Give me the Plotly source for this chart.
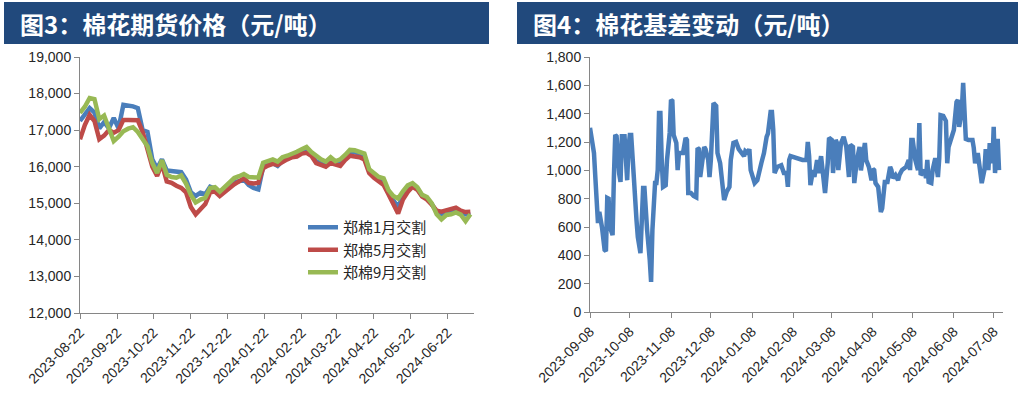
import pandas as pd
import plotly.graph_objects as go

# 图3：棉花期货价格（元/吨）—— 每4天取一个读数
price_dates = pd.date_range("2023-08-22", periods=82, freq="4D")
zc_jan = [17250, 17450, 17600, 17480, 17050, 17220, 17050, 17330, 17050, 17690,
          17680, 17650, 17600, 17000, 16950, 16200, 15950, 16200, 15900, 15880,
          15860, 15850, 15650, 15300, 15200, 15290, 15250, 15450, 15400, 15250,
          15350, 15480, 15580, 15600, 15650, 15500, 15420, 15380, 16000, 16050,
          16100, 16020, 16160, 16220, 16280, 16320, 16380, 16420, 16320, 16150,
          16080, 16020, 16150, 16080, 16100, 16250, 16380, 16400, 16350, 16300,
          15880, 15750, 15650, 15560, 15350, 15080, 14900, 15200, 15380, 15500,
          15400, 15200, 15130, 14980, 14760, 14700, 14760, 14800, 14830, 14760,
          14700, 14730]
zc_may = [16750, 17140, 17420, 17250, 16750, 16850, 17000, 16930, 17000, 17280,
          17280, 17280, 17270, 16950, 16450, 16000, 15750, 16080, 15600, 15560,
          15480, 15420, 15300, 14900, 14700, 14850, 14980, 15300, 15320, 15200,
          15310, 15430, 15520, 15600, 15680, 15560, 15540, 15560, 15960, 16030,
          16080, 16050, 16140, 16200, 16260, 16280, 16360, 16380, 16300, 16100,
          16050, 16000, 16100, 16050, 16020, 16180, 16300, 16280, 16260, 16200,
          15830, 15700, 15590, 15500, 15250, 14960, 14720, 15100, 15310, 15450,
          15370, 15180, 15100, 14960, 14800, 14770, 14800, 14850, 14880, 14800,
          14760, 14770]
zc_sep = [17470, 17640, 17880, 17850, 17300, 17400, 17050, 16700, 16820, 16970,
          17040, 17080, 16950, 16750, 16560, 16100, 15830, 16180, 15780, 15720,
          15700, 15760, 15540, 15230, 15020, 15100, 15150, 15420, 15440, 15320,
          15440, 15580, 15690, 15740, 15800, 15720, 15710, 15700, 16110, 16140,
          16200, 16140, 16260, 16300, 16340, 16410, 16480, 16540, 16400, 16280,
          16200, 16140, 16260, 16150, 16200, 16320, 16460, 16450, 16400, 16360,
          15930, 15840, 15720, 15680, 15360, 15200, 15130, 15330, 15490, 15550,
          15440, 15230, 15170, 15000, 14700, 14560, 14680, 14700, 14750, 14690,
          14510, 14700]
price_ticks = ["2023-08-22", "2023-09-22", "2023-10-22", "2023-11-22", "2023-12-22",
               "2024-01-22", "2024-02-22", "2024-03-22", "2024-04-22", "2024-05-22",
               "2024-06-22"]

# 图4：棉花基差变动（元/吨）
basis_dates = [
    "2023-09-08", "2023-09-11", "2023-09-12", "2023-09-13", "2023-09-14", "2023-09-15",
    "2023-09-17", "2023-09-19", "2023-09-20", "2023-09-21", "2023-09-22", "2023-09-23",
    "2023-09-25", "2023-09-26", "2023-09-27", "2023-09-28", "2023-09-29", "2023-09-30",
    "2023-10-01", "2023-10-02", "2023-10-04", "2023-10-05", "2023-10-06", "2023-10-07",
    "2023-10-08", "2023-10-09", "2023-10-10", "2023-10-11", "2023-10-13", "2023-10-14",
    "2023-10-16", "2023-10-17", "2023-10-18", "2023-10-19", "2023-10-20", "2023-10-21",
    "2023-10-23", "2023-10-24", "2023-10-25", "2023-10-26", "2023-10-27", "2023-10-28",
    "2023-10-29", "2023-10-30", "2023-10-31", "2023-11-01", "2023-11-02", "2023-11-04",
    "2023-11-05", "2023-11-07", "2023-11-08", "2023-11-09", "2023-11-10", "2023-11-12",
    "2023-11-13", "2023-11-14", "2023-11-17", "2023-11-19", "2023-11-20", "2023-11-21",
    "2023-11-23", "2023-11-25", "2023-11-27", "2023-11-28", "2023-11-29", "2023-11-30",
    "2023-12-02", "2023-12-03", "2023-12-04", "2023-12-06", "2023-12-07", "2023-12-08",
    "2023-12-10", "2023-12-12", "2023-12-13", "2023-12-15", "2023-12-18", "2023-12-20",
    "2023-12-22", "2023-12-23", "2023-12-25", "2023-12-27", "2023-12-29", "2023-12-31",
    "2024-01-02", "2024-01-03", "2024-01-05", "2024-01-06", "2024-01-07", "2024-01-10",
    "2024-01-12", "2024-01-15", "2024-01-17", "2024-01-19", "2024-01-20", "2024-01-22",
    "2024-01-23", "2024-01-24", "2024-01-25", "2024-01-27", "2024-01-30", "2024-02-01",
    "2024-02-03", "2024-02-04", "2024-02-05", "2024-02-06", "2024-02-10", "2024-02-13",
    "2024-02-15", "2024-02-18", "2024-02-19", "2024-02-20", "2024-02-21", "2024-02-23",
    "2024-02-24", "2024-02-26", "2024-02-27", "2024-02-29", "2024-03-01", "2024-03-02",
    "2024-03-03", "2024-03-05", "2024-03-06", "2024-03-08", "2024-03-09", "2024-03-11",
    "2024-03-12", "2024-03-13", "2024-03-15", "2024-03-17", "2024-03-19", "2024-03-21",
    "2024-03-22", "2024-03-24", "2024-03-25", "2024-03-27", "2024-03-29", "2024-03-30",
    "2024-04-01", "2024-04-02", "2024-04-03", "2024-04-05", "2024-04-07", "2024-04-08",
    "2024-04-09", "2024-04-10", "2024-04-12", "2024-04-13", "2024-04-14", "2024-04-15",
    "2024-04-17", "2024-04-19", "2024-04-21", "2024-04-22", "2024-04-23", "2024-04-25",
    "2024-04-27", "2024-04-28", "2024-04-30", "2024-05-03", "2024-05-05", "2024-05-06",
    "2024-05-07", "2024-05-08", "2024-05-10", "2024-05-12", "2024-05-13", "2024-05-14",
    "2024-05-15", "2024-05-17", "2024-05-18", "2024-05-19", "2024-05-20", "2024-05-22",
    "2024-05-23", "2024-05-25", "2024-05-27", "2024-05-28", "2024-05-29", "2024-05-31",
    "2024-06-02", "2024-06-03", "2024-06-04", "2024-06-06", "2024-06-08", "2024-06-10",
    "2024-06-11", "2024-06-12", "2024-06-14", "2024-06-15", "2024-06-16", "2024-06-17",
    "2024-06-19", "2024-06-22", "2024-06-23", "2024-06-24", "2024-06-26", "2024-06-27",
    "2024-06-29", "2024-07-01", "2024-07-02", "2024-07-04", "2024-07-05", "2024-07-07",
    "2024-07-08", "2024-07-09", "2024-07-11", "2024-07-12",
]
basis = [
    1300, 1122, 953, 812, 628, 706,
    600, 438, 430, 805, 800, 600,
    543, 953, 1250, 1240, 1024, 975,
    918, 1240, 1240, 1073, 930, 1165,
    1250, 1250, 1024, 953, 650, 530,
    416, 650, 875, 875, 700, 580,
    367, 212, 580, 740, 910, 910,
    1002, 1405, 1405, 1073, 883, 895,
    1073, 1264, 1497, 1490, 1250, 1193,
    1002, 1122, 1122, 1229, 1215, 840,
    840, 820, 810, 1158, 1150, 953,
    1136, 1165, 1150, 1073, 953, 1073,
    1475, 1455, 1122, 1050, 790, 850,
    883, 1073, 1193, 1200, 1150, 1122,
    1100, 1136, 1122, 1150, 1002, 910,
    930, 1050, 1122, 1236, 1260, 1412,
    1412, 1285, 981, 1024, 1036, 981,
    981, 883, 1073, 1100, 1086, 1073,
    1073, 1073, 1200, 1100, 896, 1002,
    953, 1073, 981, 1100, 981, 910,
    840, 1050, 1229, 1215, 981, 1215,
    1193, 1002, 1193, 1236, 1165, 953,
    1180, 1165, 910, 1073, 1165, 1000,
    1165, 1193, 1073, 1024, 930, 1010,
    1002, 910, 883, 790, 706, 730,
    918, 918, 1024, 1002, 945, 967,
    930, 967, 1002, 1024, 1073, 1002,
    1214, 1214, 1073, 1002, 1334, 967,
    981, 1002, 945, 1073, 918, 910,
    1002, 1086, 953, 1086, 1390, 1385,
    1348, 1050, 1165, 1236, 1285, 1483,
    1497, 1307, 1426, 1617, 1448, 1222,
    1215, 1215, 1158, 1050, 1122, 1024,
    910, 1002, 1150, 1002, 1193, 1050,
    1307, 981, 1222, 1002,
]
basis_ticks = ["2023-09-08", "2023-10-08", "2023-11-08", "2023-12-08", "2024-01-08",
               "2024-02-08", "2024-03-08", "2024-04-08", "2024-05-08", "2024-06-08",
               "2024-07-08"]

W, H = 1022, 408
BANNER = "#21497C"
AXIS = "#868686"
TICK_FONT = dict(family="Liberation Sans, Arial", size=14, color="#262626")
CJK = "Noto Sans CJK SC"


def px_x(p):
    return p / W


def px_y(p):
    return 1 - p / H


fig = go.Figure()

for name, vals, color in [("郑棉1月交割", zc_jan, "#4A7EBB"),
                          ("郑棉5月交割", zc_may, "#BE4B48"),
                          ("郑棉9月交割", zc_sep, "#98B954")]:
    fig.add_trace(go.Scatter(x=price_dates, y=vals, name=name, mode="lines",
                             line=dict(color=color, width=4.5),
                             xaxis="x", yaxis="y"))

fig.add_trace(go.Scatter(x=basis_dates, y=basis, mode="lines", showlegend=False,
                         line=dict(color="#4A7EBB", width=4.5),
                         xaxis="x2", yaxis="y2"))

xcommon = dict(type="date", showgrid=False, zeroline=False, showline=True,
               linecolor=AXIS, linewidth=1, ticks="outside", tickcolor=AXIS,
               ticklen=5, tickangle=-45, tickfont=TICK_FONT, tickformat="%Y-%m-%d",
               automargin=False)
ycommon = dict(showgrid=False, zeroline=False, showline=True, linecolor=AXIS,
               linewidth=1, ticks="outside", tickcolor=AXIS, ticklen=5,
               tickfont=TICK_FONT, tickformat=",", automargin=False)

fig.update_layout(
    width=W, height=H, margin=dict(l=0, r=0, t=0, b=0, autoexpand=False),
    paper_bgcolor="white", plot_bgcolor="white",
    xaxis=dict(xcommon, domain=[px_x(80), px_x(474)],
               range=["2023-08-22", "2024-07-14"], tickvals=price_ticks,
               anchor="y"),
    yaxis=dict(ycommon, domain=[px_y(313), px_y(57)], range=[12000, 19000],
               dtick=1000, anchor="x"),
    xaxis2=dict(xcommon, domain=[px_x(590), px_x(1003)],
                range=["2023-09-08", "2024-07-15"], tickvals=basis_ticks,
                anchor="y2"),
    yaxis2=dict(ycommon, domain=[px_y(312), px_y(57)], range=[0, 1800],
                dtick=200, anchor="x2"),
    legend=dict(x=px_x(303), y=px_y(211), xanchor="left", yanchor="top",
                bgcolor="rgba(0,0,0,0)", font=dict(family=CJK, size=15,
                                                   color="#262626"),
                tracegroupgap=0),
    showlegend=True,
)

# 标题栏
for x0, x1, text, tx in [(4, 489, "图3：棉花期货价格（元/吨）", 18),
                         (517, 1018, "图4：棉花基差变动（元/吨）", 531)]:
    fig.add_shape(type="rect", xref="paper", yref="paper",
                  x0=px_x(x0), x1=px_x(x1), y0=px_y(44), y1=px_y(2),
                  fillcolor=BANNER, line=dict(width=0), layer="below")
    fig.add_annotation(xref="paper", yref="paper", x=px_x(tx), y=px_y(23),
                       xanchor="left", yanchor="middle", showarrow=False,
                       text="<b>" + text + "</b>",
                       font=dict(family=CJK, size=24, color="white"))

# 去掉页面默认的 8px 边距，让图与窗口左上角对齐
fig.write_html("out.html", config={"displayModeBar": False},
               post_script="document.body.style.margin='0px';")
